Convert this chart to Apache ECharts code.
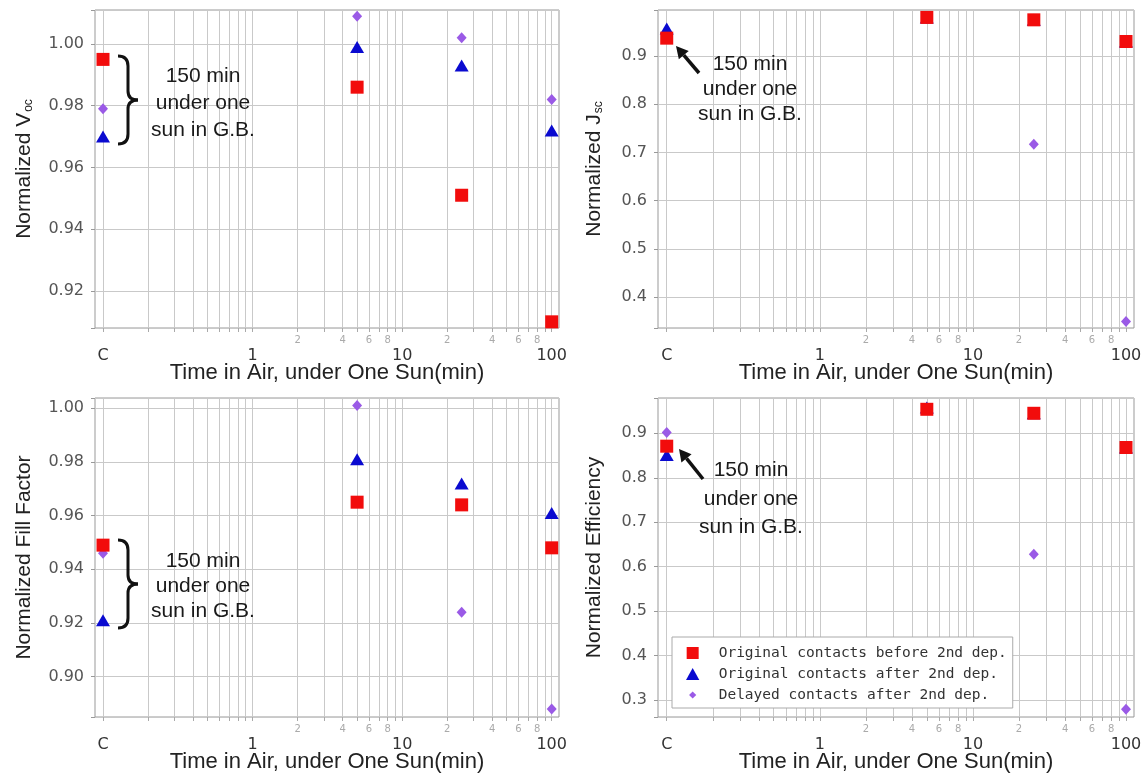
<!DOCTYPE html>
<html><head><meta charset="utf-8">
<script src="https://cdn.jsdelivr.net/npm/echarts@6/dist/echarts.min.js"></script>
<style>html,body{margin:0;padding:0;background:#fff}#c{width:1146px;height:773px}</style>
</head><body><div id="c"></div>
<script>
// ---- data (x = time in air under one sun, minutes; 0.1 stands for the control "C") ----
const timeMin = [0.1, 5, 25, 100];
const seriesNames = ['Original contacts before 2nd dep.', 'Original contacts after 2nd dep.', 'Delayed contacts after 2nd dep.'];

const vocOrigBefore = [0.995, 0.986, 0.951, 0.910];
const vocOrigAfter  = [0.970, 0.999, 0.993, 0.972];
const vocDelayed    = [0.979, 1.009, 1.002, 0.982];

const jscOrigBefore = [0.937, 0.980, 0.975, 0.930];
const jscOrigAfter  = [0.957, 0.980, 0.975, 0.930];
const jscDelayed    = [0.945, 0.978, 0.717, 0.349];

const ffOrigBefore  = [0.949, 0.965, 0.964, 0.948];
const ffOrigAfter   = [0.921, 0.981, 0.972, 0.961];
const ffDelayed     = [0.946, 1.001, 0.924, 0.888];

const effOrigBefore = [0.871, 0.954, 0.945, 0.868];
const effOrigAfter  = [0.851, 0.958, 0.945, 0.868];
const effDelayed    = [0.902, 0.954, 0.628, 0.279];

// ---- tick labels ----
const majorTickValues = [0.1, 1, 10, 100];
const majorTickLabels = ['C', '1', '10', '100'];
const minorLabelValues = [2, 4, 6, 8, 20, 40, 60, 80];
const minorLabelTexts  = ['2', '4', '6', '8', '2', '4', '6', '8'];
const xAxisTitle = 'Time in Air, under One Sun(min)';
const annotationText = '150 min\nunder one\nsun in G.B.';

// grid line positions on the log axis (0.1..100)
const gridVals = [];
[0.1, 1, 10].forEach(d => { for (let k = 1; k <= 9; k++) gridVals.push(+(d * k).toPrecision(6)); });
gridVals.push(100);

const colors = ['#f20c0c', '#0a0ad0', '#9a5ae6'];
const symbols = ['rect', 'triangle', 'diamond'];
const symbolSizes = [[13, 13], [14, 12], [10, 11]];

const panels = [
  {grid: {left: 95, top: 10, width: 464, height: 318}, xMin: 0.0884, xMax: 111.9, yMin: 0.908, yMax: 1.011, step: 0.02, dec: 2, name: 'Normalized V{sub|oc}', nameGap: 60, data: [vocOrigBefore, vocOrigAfter, vocDelayed]},
  {grid: {left: 658, top: 10, width: 476, height: 318}, xMin: 0.0877, xMax: 112.8, yMin: 0.3357, yMax: 0.9954, step: 0.1, dec: 1, name: 'Normalized J{sub|sc}', nameGap: 53, data: [jscOrigBefore, jscOrigAfter, jscDelayed]},
  {grid: {left: 95, top: 398, width: 464, height: 319}, xMin: 0.0884, xMax: 111.9, yMin: 0.885, yMax: 1.0038, step: 0.02, dec: 2, name: 'Normalized Fill Factor', nameGap: 60, data: [ffOrigBefore, ffOrigAfter, ffDelayed]},
  {grid: {left: 658, top: 398, width: 476, height: 319}, xMin: 0.0877, xMax: 112.8, yMin: 0.2618, yMax: 0.9794, step: 0.1, dec: 1, name: 'Normalized Efficiency', nameGap: 53, data: [effOrigBefore, effOrigAfter, effDelayed]}
];

function near(a, b) { return Math.abs(Math.log10(a) - Math.log10(b)) < 1e-4; }

const grids = [], xAxes = [], yAxes = [], series = [];
panels.forEach((p, k) => {
  grids.push(Object.assign({show: true, borderColor: '#999', borderWidth: 1, backgroundColor: 'transparent',
    containLabel: false, outerBoundsMode: 'none'}, p.grid));
  xAxes.push({
    type: 'log', gridIndex: k, min: p.xMin, max: p.xMax, position: 'bottom',
    name: xAxisTitle, nameLocation: 'middle', nameGap: 34, nameMoveOverlap: false,
    nameTextStyle: {fontFamily: 'Liberation Sans', fontSize: 22, color: '#222'},
    axisLine: {show: false},
    axisTick: {show: true, customValues: gridVals, length: 4, lineStyle: {color: '#aaa'}},
    splitLine: {show: true, lineStyle: {color: '#c9c9c9', width: 1}},
    axisLabel: {
      customValues: majorTickValues, margin: 20, fontFamily: 'DejaVu Sans', fontSize: 16, color: '#333',
      formatter: v => { for (let i = 0; i < majorTickValues.length; i++) if (near(v, majorTickValues[i])) return majorTickLabels[i]; return ''; }
    }
  });
  xAxes.push({
    type: 'log', gridIndex: k, min: p.xMin, max: p.xMax, position: 'bottom',
    axisLine: {show: false}, axisTick: {show: false}, splitLine: {show: false},
    axisLabel: {
      customValues: minorLabelValues, margin: 7, fontFamily: 'DejaVu Sans', fontSize: 10, color: '#aaa',
      formatter: v => { for (let i = 0; i < minorLabelValues.length; i++) if (near(v, minorLabelValues[i])) return minorLabelTexts[i]; return ''; }
    }
  });
  yAxes.push({
    type: 'value', gridIndex: k, min: p.yMin, max: p.yMax, splitNumber: 5,
    name: p.name, nameLocation: 'middle', nameGap: p.nameGap, nameMoveOverlap: false,
    nameTextStyle: {fontFamily: 'Liberation Sans', fontSize: 21, color: '#222',
      rich: {sub: {fontFamily: 'Liberation Sans', fontSize: 12, color: '#222', padding: [10, 0, 0, 1]}}},
    axisLine: {show: false},
    axisTick: {show: true, length: 4, lineStyle: {color: '#999'}},
    splitLine: {show: true, lineStyle: {color: '#c9c9c9', width: 1}},
    axisLabel: {
      margin: 11, fontFamily: 'DejaVu Sans', fontSize: 16, color: '#555',
      formatter: v => { const r = v / p.step; return Math.abs(r - Math.round(r)) < 1e-6 ? v.toFixed(p.dec) : ''; }
    }
  });
  p.data.forEach((vals, s) => {
    series.push({
      type: 'scatter', name: seriesNames[s], xAxisIndex: 2 * k, yAxisIndex: k,
      symbol: symbols[s], symbolSize: symbolSizes[s], z: 4 - s,
      itemStyle: {color: colors[s], opacity: 1},
      data: timeMin.map((t, i) => [t, vals[i]])
    });
  });
});

// annotation helpers (positions only; not data marks)
const inkStyle = {stroke: '#111', lineWidth: 3, fill: null};
function brace(x, y, h) {
  const m = y + h / 2, b = y + h;
  const mk = (x1, y1, cx, cy, x2, y2) => ({type: 'bezierCurve', silent: true, z: 10,
    shape: {x1: x1, y1: y1, cpx1: cx, cpy1: cy, x2: x2, y2: y2}, style: inkStyle});
  return [
    mk(x, y + 1, x + 10, y + 1, x + 10, y + 11),
    {type: 'line', silent: true, z: 10, shape: {x1: x + 10, y1: y + 11, x2: x + 10, y2: m - 9}, style: inkStyle},
    mk(x + 10, m - 9, x + 10, m, x + 20, m),
    mk(x + 20, m, x + 10, m, x + 10, m + 9),
    {type: 'line', silent: true, z: 10, shape: {x1: x + 10, y1: m + 9, x2: x + 10, y2: b - 11}, style: inkStyle},
    mk(x + 10, b - 11, x + 10, b - 1, x, b - 1)
  ];
}
function arrow(tx, ty, hx, hy) {
  const dx = hx - tx, dy = hy - ty, L = Math.hypot(dx, dy), ux = dx / L, uy = dy / L;
  const bl = 12, hw = 6.5, bx = hx - ux * bl, by = hy - uy * bl;
  return [
    {type: 'line', silent: true, z: 10, shape: {x1: tx, y1: ty, x2: bx, y2: by}, style: {stroke: '#111', lineWidth: 3.5}},
    {type: 'polygon', silent: true, z: 10, shape: {points: [[hx, hy], [bx - uy * hw, by + ux * hw], [bx + uy * hw, by - ux * hw]]}, style: {fill: '#111'}}
  ];
}
function note(cx, top, lh) {
  return {type: 'text', x: cx, y: top, silent: true, z: 10,
    style: {text: annotationText, textAlign: 'center', fontFamily: 'Liberation Sans', fontSize: 21, lineHeight: lh, fill: '#1a1a1a'}};
}

const graphics = [
  ...brace(118, 55, 90), note(203, 63, 27),
  ...brace(118, 539, 90), note(203, 549, 25),
  ...arrow(699, 73, 676, 46), note(750, 52, 25),
  ...arrow(703, 479, 679, 449), note(751, 456, 28.5)
];

const option = {
  animation: false,
  backgroundColor: '#fff',
  grid: grids, xAxis: xAxes, yAxis: yAxes, series: series,
  legend: {
    orient: 'vertical', left: 672, top: 637,
    backgroundColor: '#fff', borderColor: '#aaa', borderWidth: 1, borderRadius: 0,
    padding: [8, 6, 5, 14], itemWidth: 14, itemHeight: 12, itemGap: 5,
    textStyle: {fontFamily: 'DejaVu Sans Mono', fontSize: 14.5, color: '#333', lineHeight: 16, padding: [0, 0, 0, 14]},
    data: [
      {name: seriesNames[0], icon: 'path://M0,0L10,0L10,10L0,10Z'},
      {name: seriesNames[1], icon: 'path://M5,0L10,9L0,9Z'},
      {name: seriesNames[2], icon: 'path://M0,0L0,0M5,2L8,5L5,8L2,5ZM10,10L10,10'}
    ]
  },
  graphic: graphics
};
const chart = echarts.init(document.getElementById('c'));
chart.setOption(option);
</script></body></html>
